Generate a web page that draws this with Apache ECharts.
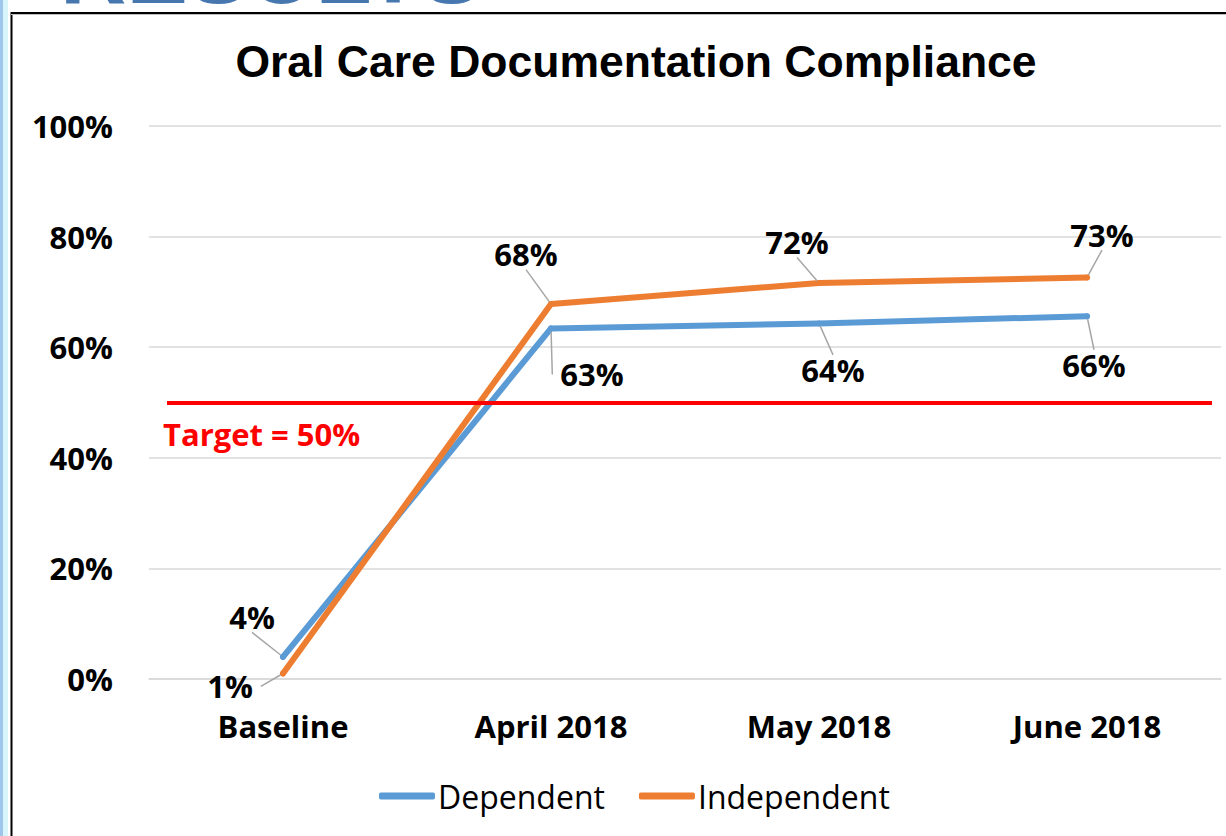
<!DOCTYPE html>
<html>
<head>
<meta charset="utf-8">
<script src="https://cdn.jsdelivr.net/npm/echarts@6/dist/echarts.min.js"></script>
<style>
html,body{margin:0;padding:0;background:#fff;}
#chart{width:1226px;height:836px;}
</style>
</head>
<body>
<div id="chart"></div>
<script>
// ---- data ----
var categories = ['Baseline', 'April 2018', 'May 2018', 'June 2018'];
var dependent = [4, 63.4, 64.3, 65.6];
var independent = [1, 67.8, 71.6, 72.6];
var yTicks = [0, 20, 40, 60, 80, 100];
var targetValue = 50;
var targetLabel = 'Target = 50%';
var titleText = 'Oral Care Documentation Compliance';
var slideHeading = 'RESULTS';

// ---- label placement (offsets from each point, px) ----
var depOffsets = [[-31, -40], [41, 46], [14, 47], [7, 49]];
var indOffsets = [[-53, 13], [-25, -50], [-22, -41], [15, -43]];

var chart = echarts.init(document.getElementById('chart'), null, {renderer: 'svg'});

var labelFont = {fontFamily: 'Open Sans', fontWeight: 'bold', fontSize: 31, color: '#000'};

function makeSeries(name, data, color, offsets) {
  return {
    name: name,
    type: 'line',
    data: data,
    symbol: 'circle',
    symbolSize: 6,
    showSymbol: true,
    itemStyle: {color: color},
    lineStyle: {color: color, width: 6, cap: 'round', join: 'round'},
    label: Object.assign({
      show: true,
      position: 'inside',
      padding: [0, 8],
      lineHeight: 30,
      formatter: function (p) { return Math.round(p.value) + '%'; }
    }, labelFont),
    labelLine: {show: true, lineStyle: {color: '#a6a6a6', width: 1.5}},
    labelLayout: function (p) {
      var o = offsets[p.dataIndex];
      return {dx: o[0], dy: o[1]};
    },
    emphasis: {disabled: true},
    animation: false,
    z: 3
  };
}

var option = {
  animation: false,
  backgroundColor: '#fff',
  title: {
    text: titleText,
    left: 631,
    top: 34,
    textAlign: 'center',
    textStyle: {fontFamily: 'Liberation Sans', fontWeight: 'bold', fontSize: 44.5, color: '#000'}
  },
  legend: {
    bottom: 19,
    left: 374,
    icon: 'roundRect',
    itemWidth: 56,
    itemHeight: 7,
    itemGap: 34,
    textStyle: {fontFamily: 'Open Sans', fontSize: 32, color: '#000', padding: [0, 0, 0, -2]},
    data: ['Dependent', 'Independent']
  },
  grid: {left: 149, right: 5, top: 126, bottom: 157, containLabel: false},
  xAxis: {
    type: 'category',
    data: categories,
    boundaryGap: true,
    axisLine: {show: true, lineStyle: {color: '#d9d9d9', width: 1.5}},
    axisTick: {show: false},
    axisLabel: Object.assign({margin: 31}, labelFont),
    splitLine: {show: false}
  },
  yAxis: {
    type: 'value',
    min: yTicks[0],
    max: yTicks[yTicks.length - 1],
    interval: yTicks[1] - yTicks[0],
    axisLine: {show: false},
    axisTick: {show: false},
    axisLabel: Object.assign({margin: 36, formatter: '{value}%'}, labelFont),
    splitLine: {lineStyle: {color: '#d9d9d9', width: 1.5}}
  },
  series: [
    makeSeries('Dependent', dependent, '#5b9bd5', depOffsets),
    makeSeries('Independent', independent, '#ed7d31', indOffsets),
    {
      name: 'Target',
      type: 'line',
      data: [],
      markLine: {
        silent: true,
        symbol: ['none', 'none'],
        lineStyle: {color: '#ff0000', width: 4, type: 'solid'},
        label: {
          show: true,
          position: 'insideStartBottom',
          distance: [-4, 16],
          formatter: targetLabel,
          fontFamily: 'Open Sans',
          fontWeight: 'bold',
          fontSize: 31,
          color: '#ff0000'
        },
        data: [[{x: 167, yAxis: targetValue}, {x: 1212, yAxis: targetValue}]]
      },
      z: 2
    }
  ],
  graphic: [
    {type: 'rect', shape: {x: 0, y: 0, width: 3, height: 836}, style: {fill: '#9fc5ea'}, silent: true},
    {type: 'rect', shape: {x: 3, y: 0, width: 5, height: 836}, style: {fill: '#d9f5fc'}, silent: true},
    {type: 'line', shape: {x1: 11.5, y1: 12, x2: 11.5, y2: 836}, style: {stroke: '#000', lineWidth: 2}, silent: true},
    {type: 'line', shape: {x1: 11, y1: 13, x2: 1226, y2: 13}, style: {stroke: '#000', lineWidth: 2}, silent: true},
    {type: 'line', shape: {x1: 11, y1: 14.5, x2: 1226, y2: 14.5}, style: {stroke: '#bfbfbf', lineWidth: 1}, silent: true},
    {
      type: 'text',
      left: 60,
      top: -75,
      style: {
        text: slideHeading,
        fontFamily: 'Liberation Sans',
        fontWeight: 'bold',
        fontSize: 92,
        fill: '#4677ae'
      },
      silent: true,
      z: -1
    }
  ]
};

chart.setOption(option);
</script>
</body>
</html>
